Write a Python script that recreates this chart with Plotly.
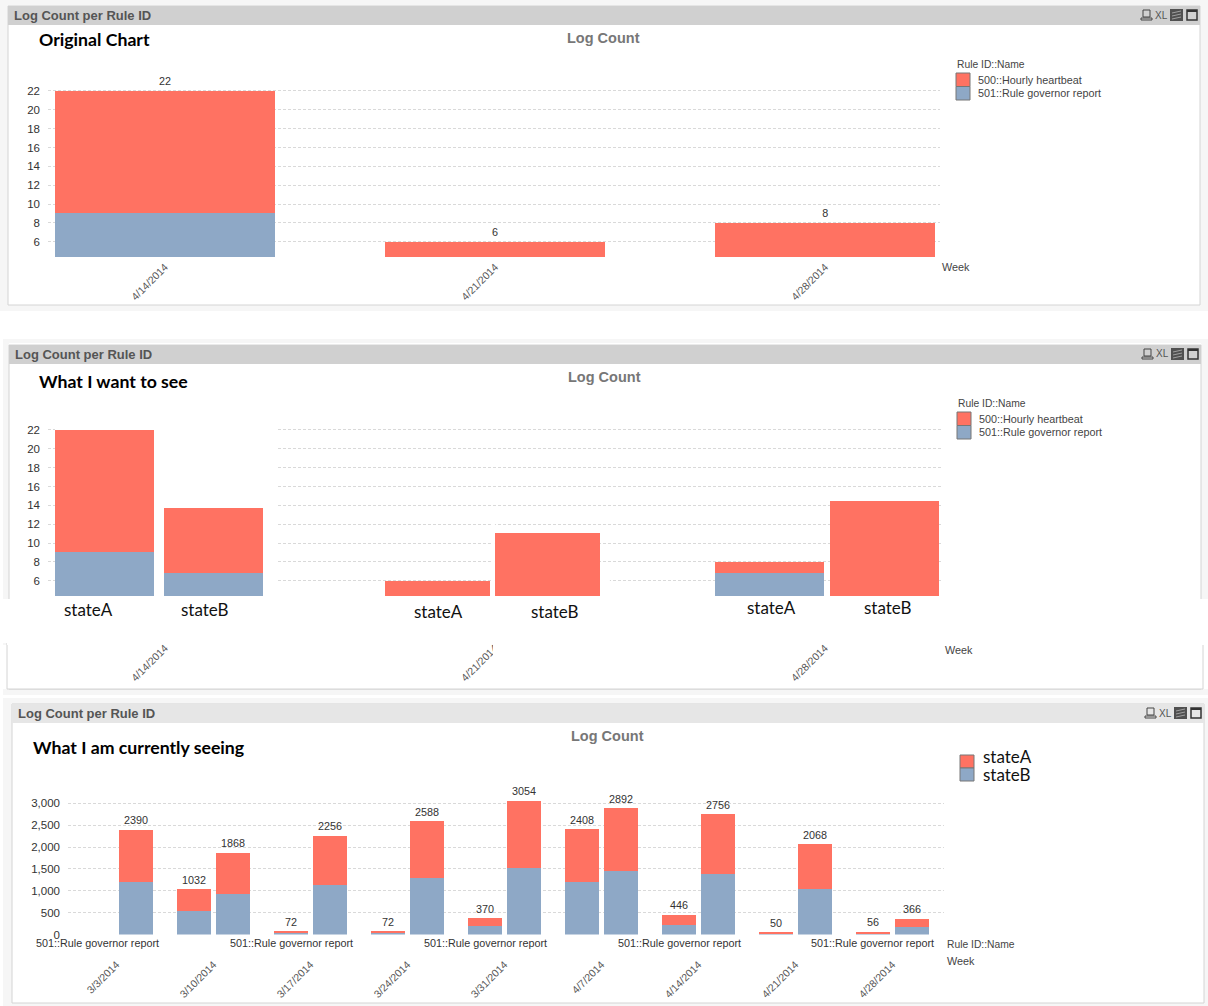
import plotly.graph_objects as go

W, H = 1208, 1006
RED, BLUE = "#FF7262", "#8EA8C6"
SANS = "Liberation Sans"
CAL = "Lato"

# ---------- data ----------
WEEKS_TOP = ["4/14/2014", "4/21/2014", "4/28/2014"]
ORIG_HOURLY = [13, 6, 8]
ORIG_GOV = [9, 0, 0]
ORIG_TOTAL = [22, 6, 8]

WANT_A_HOURLY = [13, 6, 1.2]
WANT_A_GOV = [9, 0, 6.8]
WANT_B_HOURLY = [6.9, 11.05, 14.45]
WANT_B_GOV = [6.8, 0, 0]

WEEKS_CUR = ["3/3/2014", "3/10/2014", "3/17/2014", "3/24/2014", "3/31/2014",
             "4/7/2014", "4/14/2014", "4/21/2014", "4/28/2014"]
CUR_A_TOTAL = [None, 1032, 72, 72, 370, 2408, 446, 50, 56]
CUR_A_LOW = [None, 530, 40, 40, 185, 1204, 223, 25, 28]
CUR_A_HIGH = [None, 502, 32, 32, 185, 1204, 223, 25, 28]
CUR_B_TOTAL = [2390, 1868, 2256, 2588, 3054, 2892, 2756, 2068, 366]
CUR_B_LOW = [1195, 934, 1128, 1294, 1527, 1446, 1378, 1034, 183]
CUR_B_HIGH = [1195, 934, 1128, 1294, 1527, 1446, 1378, 1034, 183]

SERIES_LABELS = ["500::Hourly heartbeat", "501::Rule governor report"]
STATE_LABELS = ["stateA", "stateB"]
TICKS_TOP = [6, 8, 10, 12, 14, 16, 18, 20, 22]
TICKS_CUR = [0, 500, 1000, 1500, 2000, 2500, 3000]
TICK_TEXT_CUR = ["0", "500", "1,000", "1,500", "2,000", "2,500", "3,000"]

# ---------- pixel helpers ----------
def px(x): return x / W
def py(y): return 1 - y / H

shapes, anns = [], []

def rect(x0, y0, x1, y1, fill, line=None, layer="below", lw=1):
    shapes.append(dict(type="rect", xref="paper", yref="paper", x0=px(x0), x1=px(x1),
                       y0=py(y1), y1=py(y0), fillcolor=fill, layer=layer,
                       line=dict(color=line or fill, width=lw if line else 0)))

def stroke(x0, y0, x1, y1, color, lw=1):
    shapes.append(dict(type="line", xref="paper", yref="paper", x0=px(x0), x1=px(x1),
                       y0=py(y0), y1=py(y1), layer="above", line=dict(color=color, width=lw)))

def text(x, y, s, size=11, color="#333333", font=SANS, anchor="left", bold=False):
    anns.append(dict(xref="paper", yref="paper", x=px(x), y=py(y), text=f"<b>{s}</b>" if bold else s,
                     showarrow=False, xanchor=anchor, yanchor="middle",
                     font=dict(family=font, size=size, color=color), borderpad=0, borderwidth=0))

def chrome(x0, hy0, x1, y1, dx, dy, hcolor, ttl_x, ttl, ttl_y, lc_x, lc_y, hx):
    rect(x0, hy0, x1, y1, "#FFFFFF", "#D4D4D4")
    rect(x0, hy0, x1, hy0 + 19, hcolor)
    text(hx, hy0 + 9.5, "Log Count per Rule ID", 13, "#555555", SANS, bold=True)
    text(ttl_x, ttl_y, ttl, 17.7, "#000000", CAL, bold=True)
    text(lc_x, lc_y, "Log Count", 14.5, "#777777", SANS, "center", bold=True)
    # toolbar icons
    rect(1143 + dx, 10 + dy, 1150 + dx, 17 + dy, "rgba(0,0,0,0)", "#444444", "above")
    rect(1141 + dx, 18 + dy, 1152 + dx, 20 + dy, "rgba(0,0,0,0)", "#444444", "above")
    text(1161 + dx, 15 + dy, "XL", 10, "#555555", SANS, "center")
    rect(1170 + dx, 9 + dy, 1183 + dx, 21 + dy, "#505050", None, "above")
    for k in (12, 15, 18):
        stroke(1172 + dx, k + 1 + dy, 1181 + dx, k - 1 + dy, "#A0A0A0")
    rect(1187 + dx, 10 + dy, 1197 + dx, 20 + dy, "rgba(0,0,0,0)", "#333333", "above", 1.5)
    rect(1187 + dx, 10 + dy, 1197 + dx, 12 + dy, "#333333", None, "above")

def legend(x, y, labels, head=None):
    for i, (lab, c) in enumerate(zip(labels, [RED, BLUE])):
        rect(x, y + i * 13.5, x + 14, y + (i + 1) * 13.5, c, "#777777", "above")
        text(x + 22, y + i * 13 + 7, lab, 10.8, "#444444")
    text(x + 1, y - 9, head, 10.3, "#444444")

rect(0, 0, W, H, "#FFFFFF")
rect(0, 0, W, 311, "#F6F6F6")
rect(3, 339, W, 343, "#F6F6F6")
rect(3, 339, 9, 645, "#F6F6F6")
rect(1201, 339, W, 599, "#F6F6F6")
rect(3, 689, W, 695, "#F6F6F6")
rect(3, 698, W, H, "#F6F6F6")

chrome(8, 6, 1200, 305, 0, 0, "#D0D0D0", 39, "Original Chart", 40, 603, 38, 14)
legend(956, 73, SERIES_LABELS, "Rule ID::Name")
text(942, 267, "Week", 10.8, "#444444")

# panel 2, broken by the pasted mock-up strip
chrome(9, 345, 1201, 689, 1, 339, "#D0D0D0", 39, "What I want to see", 381, 604, 377, 15)
rect(0, 599, W, 643, "#FFFFFF")
rect(7, 643, 1203, 689, "#FFFFFF", "#D4D4D4")
rect(7, 642, 1204, 645, "#FFFFFF")
legend(957, 412, SERIES_LABELS, "Rule ID::Name")
text(945, 650, "Week", 10.8, "#444444")
for xc, yc, lab in [(88.5, 609, 0), (205, 609, 1), (438.5, 611, 0), (555, 611, 1), (771.5, 607, 0), (888, 607, 1)]:
    text(xc, yc, STATE_LABELS[lab], 17, "#111111", CAL, "center")

# panel 3
chrome(12, 704, 1204, 1003, 4, 698, "#E6E6E6", 33, "What I am currently seeing", 747, 607, 736, 18)
for i, (lab, c) in enumerate(zip(STATE_LABELS, [RED, BLUE])):
    rect(960, 755 + i * 13, 974, 768 + i * 13, c, "#777777", "above")
    text(983, 756.5 + i * 18, lab, 17, "#111111", CAL)
text(947, 944, "Rule ID::Name", 10.3, "#444444")
text(947, 961, "Week", 10.8, "#444444")

# ---------- axis geometry ----------
def xa(a, b, rng, vals, text_, standoff, anchor):
    return dict(domain=[px(a), px(b)], range=rng, tickmode="array", tickvals=vals, ticktext=text_,
                tickangle=-45, showgrid=False, zeroline=False, showline=False, ticks="",
                ticklabelstandoff=standoff, anchor=anchor,
                tickfont=dict(family=SANS, size=10.5, color="#555555"))

def ya(top, bot, rng, vals, text_, anchor):
    return dict(domain=[py(bot), py(top)], range=rng, tickmode="array", tickvals=vals, ticktext=text_,
                showgrid=True, gridcolor="#D9D9D9", griddash="3px,2px", gridwidth=1, zeroline=False,
                showline=False, ticks="", ticklabelstandoff=7, anchor=anchor,
                tickfont=dict(family=SANS, size=11.5, color="#333333"))

idx3 = list(range(3))
idx9 = list(range(9))
yr = [4.376, 25.29]
layout = dict(
    width=W, height=H, autosize=False, margin=dict(l=0, r=0, t=0, b=0, autoexpand=False), showlegend=False,
    paper_bgcolor="#FFFFFF", plot_bgcolor="rgba(0,0,0,0)", barmode="stack", bargap=0,
    xaxis=xa(48, 940, [-0.3545, 2.348], idx3, WEEKS_TOP, 1, "y"),
    yaxis=ya(60, 257, yr, TICKS_TOP, [str(v) for v in TICKS_TOP], "x"),
    xaxis2=xa(48, 941, [-0.3545, 2.352], idx3, WEEKS_TOP, 43, "y2"),
    yaxis2=ya(399, 596, yr, TICKS_TOP, [str(v) for v in TICKS_TOP], "x2"),
    xaxis3=xa(68, 944, [-0.5, 8.531], idx9, WEEKS_CUR, 21, "y3"),
    yaxis3=ya(790, 934.5, [0, 3307], TICKS_CUR, TICK_TEXT_CUR, "x3"),
)

fig = go.Figure()

def bars(x, y, color, name, xaxis, yaxis, width):
    fig.add_trace(go.Bar(x=x, y=y, width=width, marker=dict(color=color, line=dict(width=0)),
                         name=name, xaxis=xaxis, yaxis=yaxis))

def totals(x, y, xaxis, yaxis):
    fig.add_trace(go.Scatter(x=x, y=y, text=[None if v is None else str(v) for v in y], mode="markers+text",
                             marker=dict(size=3, opacity=0), textposition="top center",
                             cliponaxis=False, xaxis=xaxis, yaxis=yaxis,
                             textfont=dict(family=SANS, size=10.8, color="#333333")))

# panel 1
bars(idx3, ORIG_GOV, BLUE, SERIES_LABELS[1], "x", "y", 0.667)
bars(idx3, ORIG_HOURLY, RED, SERIES_LABELS[0], "x", "y", 0.667)
totals(idx3, ORIG_TOTAL, "x", "y")

# panel 2: side by side stacks per week
off_a, off_b, wd = [-.183, -.174, -.168], [.147, .159, .18], [.3, .318, .33]
x2 = [i + off_a[i] for i in idx3] + [i + off_b[i] for i in idx3]
w2 = wd + wd
bars(x2, WANT_A_GOV + WANT_B_GOV, BLUE, SERIES_LABELS[1], "x2", "y2", w2)
bars(x2, WANT_A_HOURLY + WANT_B_HOURLY, RED, SERIES_LABELS[0], "x2", "y2", w2)

# panel 3
off = 19.5 / 97
x3 = [i - off for i in idx9] + [i + off for i in idx9]
bars(x3, CUR_A_LOW + CUR_B_LOW, BLUE, STATE_LABELS[1], "x3", "y3", 34 / 97)
bars(x3, CUR_A_HIGH + CUR_B_HIGH, RED, STATE_LABELS[0], "x3", "y3", 34 / 97)
totals(x3, CUR_A_TOTAL + CUR_B_TOTAL, "x3", "y3")

# repeated series label under the axis of panel 3
for i in [0, 2, 4, 6, 8]:
    anns.append(dict(xref="x3", yref="paper", x=i - off, y=py(942.5), text=SERIES_LABELS[1], showarrow=False,
                     xanchor="center", yanchor="middle", font=dict(family=SANS, size=10.8, color="#333333")))

# erase grid where the mock-up was pasted over it
def gx(p): return (p - 165) / 330
def gy(p): return 6 + (580.7 - p) / 9.419
for a, t, b, c in [(55, 425, 278, 598), (491, 520, 495, 598), (600, 574, 610, 598)]:
    shapes.append(dict(type="rect", xref="x2", yref="y2", x0=gx(a), x1=gx(b), y0=gy(c), y1=gy(t),
                       fillcolor="#FFFFFF", line=dict(width=0), layer="between"))
rect(493, 640, 502, 656, "#FFFFFF", None, "above")

layout["shapes"] = shapes
layout["annotations"] = anns
fig.update_layout(**layout)
fig.write_html("out.html", config={"displayModeBar": False},
               post_script="document.body.style.margin='0';document.documentElement.style.overflow='hidden';")
